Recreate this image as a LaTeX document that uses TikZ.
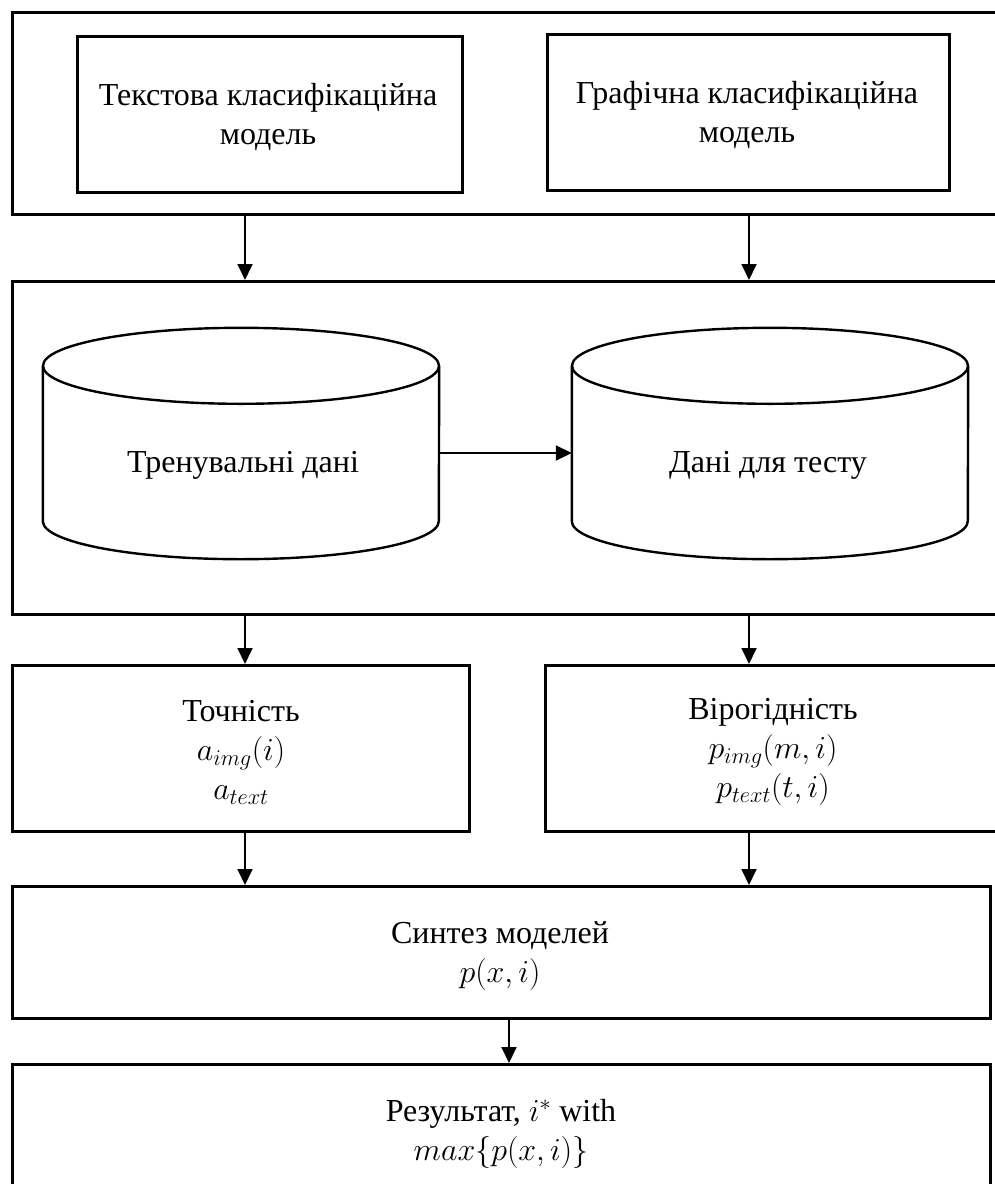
\documentclass[tikz,border=0pt]{standalone}
\usepackage{fix-cm}
\usepackage{fontspec}
\setmainfont{Liberation Serif}
\usetikzlibrary{arrows.meta}
\begin{document}
\begin{tikzpicture}[x=1pt,y=-1pt,
  box/.style={draw, line width=2.6pt, rectangle},
  txt/.style={align=center, font=\fontsize{32}{39}\selectfont, inner sep=0pt},
  arr/.style={line width=1.8pt, -{Triangle[width=15pt,length=16pt]}},
  cyl/.style={draw, line width=2.4pt}]
\useasboundingbox (0,0) rectangle (995,1184);
\fill[white] (0,0) rectangle (995,1184);
\clip (0,0) rectangle (995,1184);

% top group
\node[box, minimum width=1000pt, minimum height=202pt, anchor=north west] (top) at (11,11) {};
\node[box, minimum width=385pt, minimum height=156pt, anchor=north west] (tm) at (76,35) {};
\node[txt] (tmt) at (268,117) {Текстова класифікаційна\\модель};
\node[box, minimum width=402pt, minimum height=156pt, anchor=north west] (gm) at (546,33) {};
\node[txt] (gmt) at (747,115) {Графічна класифікаційна\\модель};

% data group
\node[box, minimum width=1000pt, minimum height=333pt, anchor=north west] (data) at (11,280) {};

% cylinders
\node[minimum width=396pt, minimum height=155pt, inner sep=0pt] (c1) at (241,443.5) {};
\node[minimum width=396pt, minimum height=155pt, inner sep=0pt] (c2) at (770,443.5) {};
\draw[cyl] (c1.north west) -- (c1.south west)
  arc[start angle=180, end angle=360, x radius=198pt, y radius=38pt] -- (c1.north east);
\draw[cyl] (c1.north) ellipse [x radius=198pt, y radius=38pt];
\draw[cyl] (c2.north west) -- (c2.south west)
  arc[start angle=180, end angle=360, x radius=198pt, y radius=38pt] -- (c2.north east);
\draw[cyl] (c2.north) ellipse [x radius=198pt, y radius=38pt];
\node[txt] (c1t) at (243,465) {Тренувальні дані};
\node[txt] (c2t) at (768,465) {Дані для тесту};
\coordinate (ya) at (0,453);
\draw[arr] (c1.east |- ya) -- (c2.west |- ya);

% accuracy / probability
\node[box, minimum width=457pt, minimum height=166pt, anchor=north west] (acc) at (11,664) {};
\node[txt] (acct) at (241,752) {Точність\\$a_{img}(i)$\\$a_{text}$};
\node[box, minimum width=470pt, minimum height=166pt, anchor=north west] (prob) at (544,664) {};
\node[txt] (probt) at (773,752) {Вірогідність\\$p_{img}(m,i)$\\$p_{text}(t,i)$};

% synthesis
\node[box, minimum width=978pt, minimum height=132pt, anchor=north west] (syn) at (11,885) {};
\node[txt] (synt) at (500,956) {Синтез моделей\\$p(x,i)$};

% result
\node[box, minimum width=978pt, minimum height=140pt, anchor=north west] (res) at (11,1063) {};
\node[txt] (rest) at (501,1134) {Результат, $i^{*}$ with\\$max\{p(x,i)\}$};

% arrows
\coordinate (xl) at (245,0);
\coordinate (xr) at (749,0);
\coordinate (xm) at (509,0);
\draw[arr] (top.south -| xl) -- (data.north -| xl);
\draw[arr] (top.south -| xr) -- (data.north -| xr);
\draw[arr] (data.south -| xl) -- (acc.north -| xl);
\draw[arr] (data.south -| xr) -- (prob.north -| xr);
\draw[arr] (acc.south -| xl) -- (syn.north -| xl);
\draw[arr] (prob.south -| xr) -- (syn.north -| xr);
\draw[arr] (syn.south -| xm) -- (res.north -| xm);
\end{tikzpicture}
\end{document}
